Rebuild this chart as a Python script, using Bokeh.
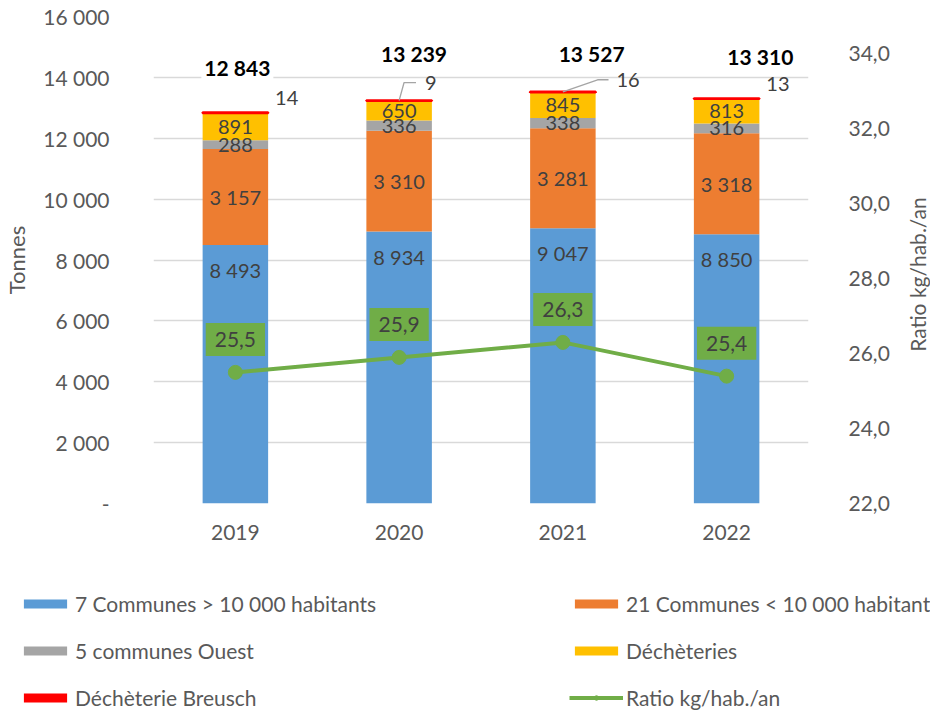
import math
from bokeh.plotting import figure
from bokeh.layouts import column, row
from bokeh.models import (ColumnDataSource, Range1d, LinearAxis, FixedTicker,
                          Legend, LegendItem)
from bokeh.embed import file_html
from bokeh.resources import INLINE
from bokeh.core.properties import value

# ---------------- data ----------------
years = ["2019", "2020", "2021", "2022"]
communes_gt10k = [8493, 8934, 9047, 8850]      # 7 Communes > 10 000 habitants
communes_lt10k = [3157, 3310, 3281, 3318]      # 21 Communes < 10 000 habitants
communes_ouest = [288, 336, 338, 316]          # 5 communes Ouest
decheteries = [891, 650, 845, 813]             # Déchèteries
decheterie_breusch = [14, 9, 16, 13]           # Déchèterie Breusch
ratio = [25.5, 25.9, 26.3, 25.4]               # Ratio kg/hab./an

left_ticks = [0, 2000, 4000, 6000, 8000, 10000, 12000, 14000, 16000]
right_ticks = [22, 24, 26, 28, 30, 32, 34]

series_names = ["7 Communes > 10 000 habitants", "21 Communes < 10 000 habitants",
                "5 communes Ouest", "Déchèteries", "Déchèterie Breusch"]
ratio_name = "Ratio kg/hab./an"

# ---------------- style ----------------
FONT = "Lato"
COLORS = ["#5B9BD5", "#ED7D31", "#A5A5A5", "#FFC000", "#FF0000"]
GREEN = "#70AD47"
AXIS_TXT = "#595959"
LBL_TXT = "#404040"

W = 930
W3 = 26                                     # strip holding the right axis title
W1 = W - W3
H1, H2 = 553, 158
FL, FR, FT, FB = 148, 808, 16, 503          # frame edges (px)
Y0, Y1 = 0, 16000
R0, R1 = 22, 35
X0, X1 = -0.5, 3.5
PX_Y = (Y1 - Y0) / (FB - FT)
PX_R = (R1 - R0) / (FB - FT)
PX_X = (X1 - X0) / (FR - FL)

# label offsets in pixels (style)
total_dx = [2, 15, 29, 34]
total_dy = [45, 47, 38, 42]
breusch_dx = [40, 26, 54, 40]
breusch_dy = [15, 18, 12, 14]
leader_mid_dx = [None, 5, 35, None]
leader_end_dx = [None, 17, 46, None]

def fmt_int(v):
    return f"{v:,}".replace(",", " ")

def fmt_dec(v):
    return f"{v:.1f}".replace(".", ",")

n = len(years)
xs = list(range(n))
totals = [a + b + c + d + e for a, b, c, d, e in
          zip(communes_gt10k, communes_lt10k, communes_ouest, decheteries, decheterie_breusch)]

p = figure(width=W1, height=H1, output_backend="svg", toolbar_location=None,
           x_range=Range1d(X0, X1), y_range=Range1d(Y0, Y1),
           min_border_left=FL, min_border_right=W1 - FR,
           min_border_top=FT, min_border_bottom=H1 - FB)
p.extra_y_ranges = {"ratio": Range1d(R0, R1)}
p.outline_line_color = None
p.xgrid.visible = False
p.ygrid.grid_line_color = "#D9D9D9"
p.ygrid.grid_line_width = 1.3

# left axis
ya = p.yaxis[0]
ya.ticker = FixedTicker(ticks=left_ticks)
ya.major_label_overrides = {t: ("-" if t == 0 else fmt_int(t)) for t in left_ticks}
ya.axis_line_color = None
ya.major_tick_line_color = None
ya.minor_tick_line_color = None
ya.major_label_standoff = 38
ya.major_label_text_font = FONT
ya.major_label_text_font_size = "21px"
ya.major_label_text_color = AXIS_TXT
ya.axis_label = "Tonnes"
ya.axis_label_text_font = FONT
ya.axis_label_text_font_size = "22px"
ya.axis_label_text_font_style = "normal"
ya.axis_label_text_color = AXIS_TXT
ya.axis_label_standoff = 10

# right axis
ra = LinearAxis(y_range_name="ratio", ticker=FixedTicker(ticks=right_ticks))
ra.major_label_overrides = {t: fmt_dec(t) for t in right_ticks}
ra.axis_line_color = None
ra.major_tick_line_color = None
ra.minor_tick_line_color = None
ra.major_label_standoff = 34
ra.major_label_text_font = FONT
ra.major_label_text_font_size = "21px"
ra.major_label_text_color = AXIS_TXT
p.add_layout(ra, "right")

# x axis
xa = p.xaxis[0]
xa.ticker = FixedTicker(ticks=xs)
xa.major_label_overrides = {i: y for i, y in enumerate(years)}
xa.axis_line_color = None
xa.major_tick_line_color = None
xa.minor_tick_line_color = None
xa.major_label_standoff = 15
xa.major_label_text_font = FONT
xa.major_label_text_font_size = "21px"
xa.major_label_text_color = AXIS_TXT

# stacked bars
keys = ["g", "l", "o", "d", "b"]
src = ColumnDataSource(dict(x=xs, g=communes_gt10k, l=communes_lt10k,
                            o=communes_ouest, d=decheteries, b=decheterie_breusch))
bars = p.vbar_stack(keys, x="x", width=0.4, color=COLORS, line_color=None, source=src)
bars[-1].glyph.line_color = COLORS[-1]
bars[-1].glyph.line_width = 2.5

# ratio line
p.line(xs, ratio, y_range_name="ratio", color=GREEN, line_width=4)
p.scatter(xs, ratio, y_range_name="ratio", size=14, color=GREEN)

# segment labels
lab_x, lab_y, lab_t = [], [], []
for i in xs:
    base = 0
    for k, vals in enumerate([communes_gt10k, communes_lt10k, communes_ouest, decheteries]):
        v = vals[i]
        lab_x.append(i)
        if k == 0:
            lab_y.append(base + v - 25 * PX_Y)
        else:
            lab_y.append(base + v / 2)
        lab_t.append(fmt_int(v))
        base += v
p.text(x=lab_x, y=lab_y, text=lab_t, text_font=value(FONT), text_font_size="20px",
       text_color=LBL_TXT, text_align="center", text_baseline="middle")

# Breusch labels and leader lines
p.text(x=[i + breusch_dx[i] * PX_X for i in xs],
       y=[totals[i] + breusch_dy[i] * PX_Y for i in xs],
       text=[fmt_int(v) for v in decheterie_breusch], text_font=value(FONT),
       text_font_size="20px", text_color=LBL_TXT, text_align="left", text_baseline="middle")
lx, ly = [], []
for i in xs:
    if leader_mid_dx[i] is None:
        continue
    yy = totals[i] + breusch_dy[i] * PX_Y
    lx.append([i, i + leader_mid_dx[i] * PX_X, i + leader_end_dx[i] * PX_X])
    ly.append([totals[i], yy, yy])
p.multi_line(lx, ly, line_color="#A5A5A5", line_width=1.3)

# total labels
p.text(x=[i + total_dx[i] * PX_X for i in xs],
       y=[totals[i] + total_dy[i] * PX_Y for i in xs],
       text=[fmt_int(v) for v in totals], text_font=value(FONT), text_font_size="21px",
       text_font_style="bold", text_color="black", text_align="center",
       text_baseline="middle", background_fill_color="white", padding=3)

# ratio labels
p.text(x=xs, y=[r + 33 * PX_R for r in ratio], y_range_name="ratio",
       text=[fmt_dec(r) for r in ratio], text_font=value(FONT), text_font_size="21px",
       text_color=LBL_TXT, text_align="center", text_baseline="middle",
       background_fill_color=GREEN, padding=9)

# ---------------- right axis title strip ----------------
p3 = figure(width=W3, height=H1, output_backend="svg", toolbar_location=None,
            x_range=Range1d(0, W3), y_range=Range1d(0, H1), min_border=0,
            x_axis_location=None, y_axis_location=None)
p3.outline_line_color = None
p3.grid.visible = False
p3.text(x=[W3 / 2], y=[H1 - 274], text=[ratio_name], angle=math.pi / 2,
        text_font=value(FONT), text_font_size="21px", text_color=AXIS_TXT,
        text_align="center", text_baseline="middle")

# ---------------- legend (separate strip below) ----------------
p2 = figure(width=W, height=H2, output_backend="svg", toolbar_location=None,
            x_range=Range1d(0, 1), y_range=Range1d(0, 1), min_border=0,
            x_axis_location=None, y_axis_location=None)
p2.outline_line_color = None
p2.grid.visible = False

leg_x = 18
try:
    for fig in (p, p2, p3):
        fig.frame_align = False
except Exception:
    leg_x = 0

# legend proxies: one off-range point each, only their styles are shown in the legend
proxy = ColumnDataSource(dict(x=[-1.0], y=[-1.0]))
leg_r = [p2.vbar(x="x", top="y", bottom="y", width=0.1, color=c, line_color=None, source=proxy)
         for c in COLORS]
leg_line = p2.line(x="x", y="y", color=GREEN, line_width=4, source=proxy)
leg_pts = p2.scatter(x="x", y="y", size=14, color=GREEN, source=proxy)

items = [LegendItem(label=series_names[k], renderers=[leg_r[k]]) for k in range(5)]
items.append(LegendItem(label=ratio_name, renderers=[leg_line, leg_pts]))
legend = Legend(items=items, ncols=2, orientation="horizontal",
                location=(leg_x, 1),
                glyph_width=54, glyph_height=11, label_standoff=3,
                label_width=472, spacing=22, padding=0, margin=0,
                border_line_color=None, background_fill_alpha=0,
                label_text_font=FONT, label_text_font_size="21px",
                label_text_color=AXIS_TXT, label_height=20)
p2.add_layout(legend)

root = column(row(p, p3, spacing=0), p2, spacing=0)
open("out.html", "w").write(file_html(root, INLINE))
